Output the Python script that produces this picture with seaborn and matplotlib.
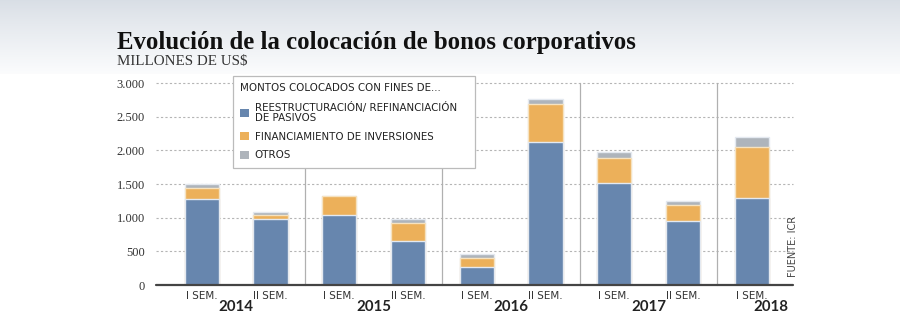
import numpy as np
import pandas as pd
import matplotlib
matplotlib.use("Agg")
import matplotlib.pyplot as plt
import seaborn as sns
from matplotlib.patches import Patch

# ---- data ----
periods = ["2014 I", "2014 II", "2015 I", "2015 II", "2016 I", "2016 II", "2017 I", "2017 II", "2018 I"]
sem_labels = ["I SEM.", "II SEM.", "I SEM.", "II SEM.", "I SEM.", "II SEM.", "I SEM.", "II SEM.", "I SEM."]
years = ["2014", "2015", "2016", "2017", "2018"]
refinanciacion = [1280, 980, 1040, 660, 265, 2130, 1510, 945, 1295]
inversiones = [160, 60, 280, 265, 135, 565, 380, 245, 760]
otros = [55, 50, 0, 50, 60, 60, 80, 55, 150]
yticks = [0, 500, 1000, 1500, 2000, 2500, 3000]
ytick_labels = ["0", "500", "1.000", "1.500", "2.000", "2.500", "3.000"]
series_names = ["REESTRUCTURACIÓN/ REFINANCIACIÓN\nDE PASIVOS", "FINANCIAMIENTO DE INVERSIONES", "OTROS"]

BLUE = "#6786ae"
ORANGE = "#ecb05a"
GRAY = "#aeb4bb"
NARROW = ["Liberation Sans Narrow", "DejaVu Sans"]

sns.set_theme(style="white")
plt.rcParams["font.family"] = ["DejaVu Sans"]

fig = plt.figure(figsize=(9, 3.35), dpi=100)
fig.patch.set_facecolor("white")

# background gradient band at top
bg = fig.add_axes([0, 1 - 74 / 335, 1, 74 / 335], zorder=-10)
grad = np.linspace(0, 1, 100).reshape(-1, 1) ** 0.9
c_top = np.array([0.850, 0.872, 0.900])
c_bot = np.array([0.985, 0.988, 0.992])
img = c_top[None, None, :] * (1 - grad[:, :, None]) + c_bot[None, None, :] * grad[:, :, None]
bg.imshow(img, aspect="auto", extent=[0, 1, 0, 1])
bg.set_axis_off()

ax = fig.add_axes([156 / 900, 1 - 285 / 335, (793 - 156) / 900, (285 - 83) / 335])
ax.set_facecolor("none")

df = pd.DataFrame({
    "periodo": periods,
    "ref": refinanciacion,
    "inv": inversiones,
    "otr": otros,
})
df["t2"] = df["ref"] + df["inv"]
df["t3"] = df["t2"] + df["otr"]

edge = "#e4e9f0"
sns.barplot(data=df, x="periodo", y="t3", order=periods, color=GRAY, saturation=1,
            width=0.5, edgecolor=edge, linewidth=1, ax=ax, zorder=3)
sns.barplot(data=df, x="periodo", y="t2", order=periods, color=ORANGE, saturation=1,
            width=0.5, edgecolor="#f6e2bf", linewidth=1, ax=ax, zorder=4)
sns.barplot(data=df, x="periodo", y="ref", order=periods, color=BLUE, saturation=1,
            width=0.5, edgecolor=edge, linewidth=1, ax=ax, zorder=5)

ax.set_xlim(-0.665, 8.6)
ax.set_ylim(0, 3000)
for s in ax.spines.values():
    s.set_visible(False)

# grid
for yv in yticks[1:]:
    ax.axhline(yv, color="#b5b5b5", lw=0.8, ls=(0, (2, 2)), zorder=1, clip_on=False)
ax.axhline(0, color="#444444", lw=1.6, zorder=6, clip_on=False)

# separators between years
for xs in [1.5, 3.5, 5.5, 7.5]:
    ax.plot([xs, xs], [0, 3000], color="#b0b0b0", lw=0.9, zorder=1, clip_on=False)

ax.set_yticks(yticks)
ax.set_yticklabels(ytick_labels, fontfamily="Liberation Serif", fontsize=9, color="#333333")
ax.tick_params(axis="y", length=0, pad=8)
ax.set_xticks(range(len(periods)))
ax.set_xticklabels(sem_labels, fontfamily=NARROW, fontsize=7.5, color="#333333")
ax.tick_params(axis="x", length=0, pad=4)
ax.set_xlabel("")
ax.set_ylabel("")

# year labels
year_x = [0.5, 2.5, 4.5, 6.5, 8.28]
trans = ax.get_xaxis_transform()
for yx, yl in zip(year_x, years):
    ax.text(yx, -(307 - 285) / (285 - 83), yl, transform=trans, ha="center", va="center",
            fontfamily="Lato", fontweight="bold", fontsize=10.8, color="#222222")

# title / subtitle
fig.text(117 / 900, 1 - 42 / 335, "Evolución de la colocación de bonos corporativos",
         fontfamily="Liberation Serif", fontweight="bold", fontsize=17.8, color="#111111",
         ha="left", va="center")
fig.text(117 / 900, 1 - 62 / 335, "MILLONES DE US$", fontfamily="Liberation Serif",
         fontsize=10.8, color="#333333", ha="left", va="center")

# source
fig.text(793 / 900, 1 - 277 / 335, "FUENTE: ICR", rotation=90, ha="center", va="bottom",
         fontfamily=NARROW, fontsize=7, color="#444444")

# legend
handles = [Patch(facecolor=BLUE, edgecolor="none"),
           Patch(facecolor=ORANGE, edgecolor="none"),
           Patch(facecolor=GRAY, edgecolor="none")]
leg = fig.legend(handles, series_names, title="MONTOS COLOCADOS CON FINES DE...",
                 loc="upper left",
                 bbox_to_anchor=(233 / 900, 1 - 167 / 335, (475 - 233) / 900, (167 - 76) / 335),
                 mode="expand", borderaxespad=0,
                 frameon=True, fancybox=False, framealpha=1, edgecolor="#bbbbbb",
                 prop={"family": NARROW, "size": 7.4},
                 handlelength=0.9, handleheight=0.9, handletextpad=0.5,
                 labelspacing=0.85, borderpad=0.7, alignment="left")
leg.get_title().set_fontfamily(NARROW)
leg.get_title().set_fontsize(7.4)
leg.get_title().set_color("#222222")
for t in leg.get_texts():
    t.set_color("#222222")
    t.set_linespacing(1.0)
leg.get_frame().set_linewidth(0.9)
leg.set_zorder(20)

fig.savefig("out.png", dpi=100)
